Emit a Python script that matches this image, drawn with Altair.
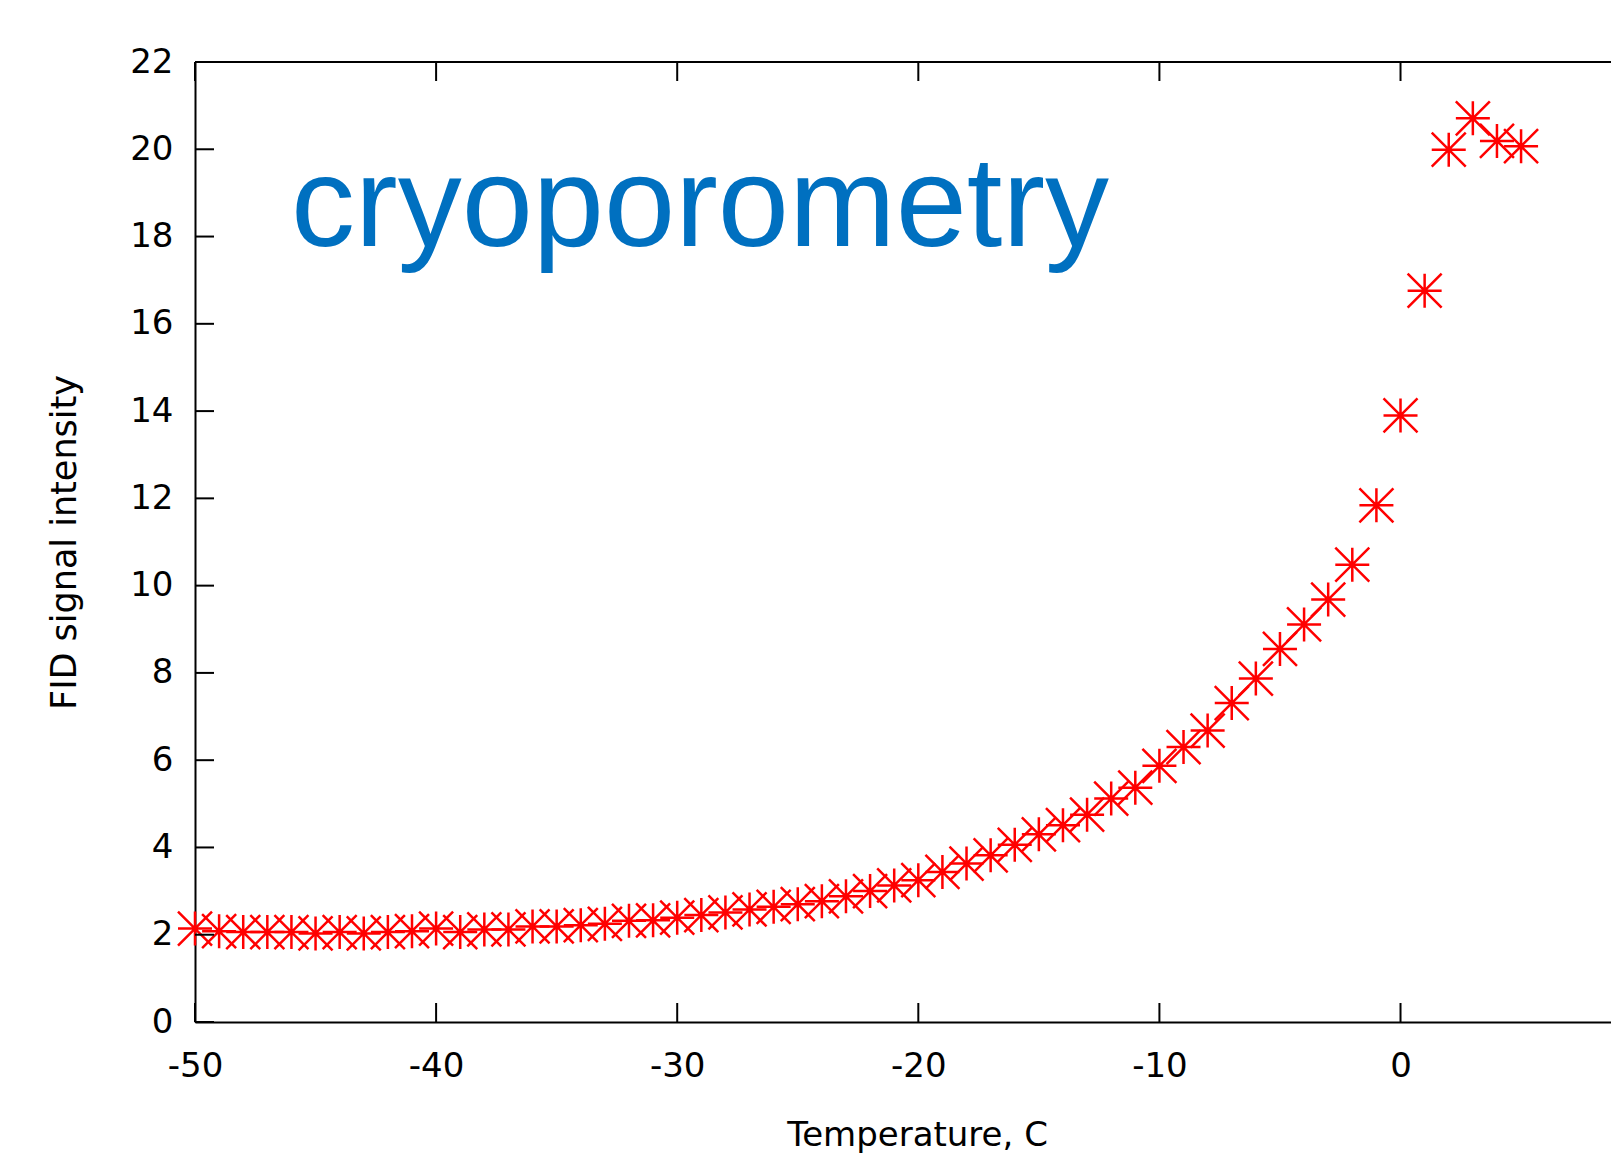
import altair as alt
import pandas as pd

temps = list(range(-50, 6))
intensity = [2.14, 2.08, 2.06, 2.06, 2.06, 2.03, 2.06, 2.03, 2.06, 2.08,
             2.14, 2.06, 2.12, 2.12, 2.19, 2.19, 2.22, 2.25, 2.32,
             2.33, 2.39, 2.45, 2.51, 2.58, 2.64, 2.70, 2.77, 2.88, 3.00,
             3.13, 3.25, 3.44, 3.63, 3.82, 4.06, 4.30, 4.51, 4.75,
             5.12, 5.37, 5.87, 6.30, 6.68, 7.31, 7.87, 8.55, 9.11, 9.68,
             10.48, 11.84,
             13.90, 16.76, 19.99, 20.71, 20.19, 20.07]
x_ticks = [-50, -40, -30, -20, -10, 0]
y_ticks = [0, 2, 4, 6, 8, 10, 12, 14, 16, 18, 20, 22]

W, H = 1416, 960
FONT = "DejaVu Sans"

df = pd.DataFrame({"t": temps, "v": intensity})
xt = pd.DataFrame({"xt": x_ticks})
yt = pd.DataFrame({"yt": y_ticks})

xs = alt.Scale(domain=[-50, 8.73], nice=False, zero=False)
ys = alt.Scale(domain=[0, 22], nice=False)

star = "M-1,0L1,0M0,-1L0,1M-1,-1L1,1M-1,1L1,-1"

base_x = alt.X("t:Q", scale=xs, axis=alt.Axis(
    values=x_ticks, ticks=False, grid=False, domain=True, domainColor="black",
    domainWidth=2, labelFont=FONT, labelFontSize=34, labelColor="black",
    labelPadding=27, labelFlush=False, labelExpr="'' + datum.value",
    title="Temperature, C", titleFont=FONT, titleFontSize=34,
    titleFontWeight="normal", titleColor="black", titleX=722, titleY=113,
    titleAlign="center", titleBaseline="middle"))
base_y = alt.Y("v:Q", scale=ys, axis=alt.Axis(
    values=y_ticks, ticks=False, grid=False, domain=True, domainColor="black",
    domainWidth=2, labelFont=FONT, labelFontSize=34, labelColor="black",
    labelPadding=22, labelFlush=False, labelExpr="'' + datum.value",
    title="FID signal intensity", titleFont=FONT,
    titleFontSize=35, titleFontWeight="normal", titleColor="black",
    titleX=-131, titleY=H / 2, titleAlign="center", titleBaseline="middle"))

pts = alt.Chart(df).mark_point(shape=star, size=1156, color="#ff0000",
                               strokeWidth=2.5, filled=False, opacity=1).encode(
    x=base_x, y=base_y)

top_axis = alt.Chart(xt).mark_rule(color="black", strokeWidth=2).encode(
    x=alt.value(0), x2=alt.value(W), y=alt.value(0))
ytick_rules = alt.Chart(yt).mark_rule(color="black", strokeWidth=2).encode(
    y=alt.Y("yt:Q", scale=ys), x=alt.value(0), x2=alt.value(19))
xtick_top = alt.Chart(xt).mark_rule(color="black", strokeWidth=2).encode(
    x=alt.X("xt:Q", scale=xs), y=alt.value(0), y2=alt.value(19))
xtick_bot = alt.Chart(xt).mark_rule(color="black", strokeWidth=2).encode(
    x=alt.X("xt:Q", scale=xs), y=alt.value(H), y2=alt.value(H - 19))

label = alt.Chart(pd.DataFrame({"txt": ["cryoporometry"]})).mark_text(
    font="Liberation Sans", fontSize=128,
    color="#0070C0", align="left", baseline="alphabetic").encode(
    text="txt:N", x=alt.value(96), y=alt.value(184))

chart = alt.layer(pts, top_axis, ytick_rules, xtick_top, xtick_bot, label).properties(
    width=W, height=H,
    autosize=alt.AutoSizeParams(type="none"),
    padding={"left": 195, "top": 62, "right": 0, "bottom": 138},
).configure_view(strokeWidth=0).configure(background="white")

chart.save("out.html", embed_options={"renderer": "svg", "actions": False})
